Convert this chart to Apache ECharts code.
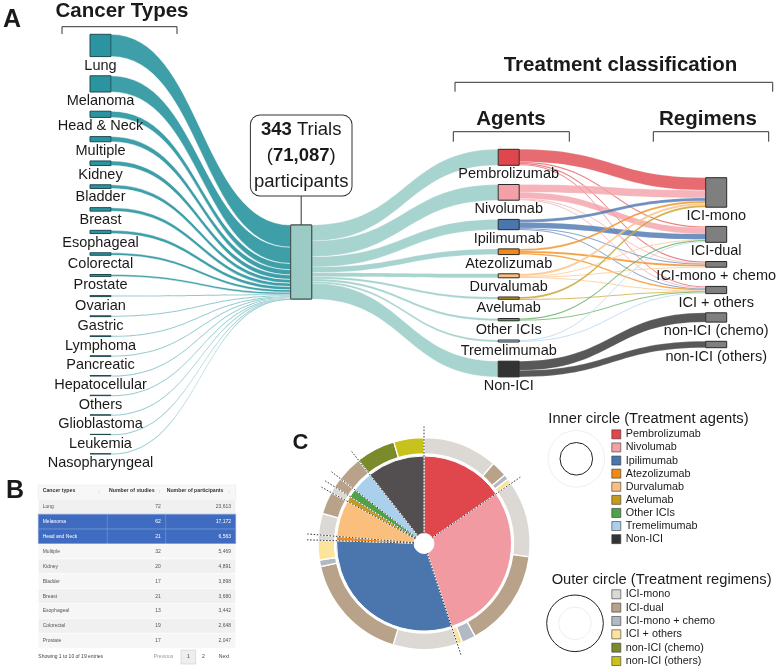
<!DOCTYPE html>
<html><head><meta charset="utf-8">
<script src="https://cdn.jsdelivr.net/npm/echarts@6/dist/echarts.min.js"></script>
<style>html,body{margin:0;padding:0;background:#fff}#c{width:782px;height:669px}</style>
</head><body><div id="c"></div>
<script>
// ---------------- data ----------------
const cancerTypes = ['Lung','Melanoma','Head & Neck','Multiple','Kidney','Bladder','Breast','Esophageal','Colorectal','Prostate','Ovarian','Gastric','Lymphoma','Pancreatic','Hepatocellular','Others','Glioblastoma','Leukemia','Nasopharyngeal'];
const cancerParticipants = [23613,17172,6563,5469,4891,3898,3680,3442,2648,2047,1050,900,750,620,520,430,330,220,147];
const agents = ['Pembrolizumab','Nivolumab','Ipilimumab','Atezolizumab','Durvalumab','Avelumab','Other ICIs','Tremelimumab','Non-ICI'];
const regimens = ['ICI-mono','ICI-dual','ICI-mono + chemo','ICI + others','non-ICI (chemo)','non-ICI (others)'];
// participants flowing from each agent (same order as agents) into each regimen
const flowIciMono   = [13240,8160,3180,2120,2440,2120,0,0,0];
const flowIciDual   = [1270,6570,6040,0,530,0,1380,1060,0];
const flowIciChemo  = [1380,950,840,2330,530,0,0,0,0];
const flowIciOthers = [1060,950,840,1590,740,320,1060,1060,0];
const flowNonChemo  = [0,0,0,0,0,0,0,0,9850];
const flowNonOthers = [0,0,0,0,0,0,0,0,6780];
const trialCount = 343;
const participantCount = 71087;

// table (panel B)
const tableHeaders = ['Cancer types','Number of studies','Number of participants'];
const tableTypes = ['Lung','Melanoma','Head and Neck','Mulitple','Kidney','Bladder','Breast','Esophageal','Colorectal','Prostate'];
const tableStudies = [72,62,21,32,20,17,21,13,19,17];
const tableParticipants = [23613,17172,6563,5469,4891,3898,3680,3442,2648,2047];
const tableSelected = ['Melanoma','Head and Neck'];
const tableFooter = 'Showing 1 to 10 of 19 entries';
const tablePager = ['Previous','1','2','Next'];

// pie (panel C), shares in %
const pieAgentShare = [15.4,29.5,30.6,0.8,6.7,1.0,1.5,3.9,10.6];
const ringIciMono   = [11.4,11.6,9.8,0.8,3.3,1.0,0,0,0];
const ringIciDual   = [2.4,15.0,16.8,0,3.4,0,1.5,3.9,0];
const ringIciChemo  = [0.8,2.1,1.0,0,0,0,0,0,0];
const ringIciOthers = [0.8,0.8,3.0,0,0,0,0,0,0];
const ringNonChemo  = [0,0,0,0,0,0,0,0,6.0];
const ringNonOthers = [0,0,0,0,0,0,0,0,4.6];

// ---------------- styles ----------------
const FONT = '"Liberation Sans", Arial, Helvetica, sans-serif';
const agentColors = ['#e0474d','#f4a0a7','#4a76b0','#f08a15','#fbbf7d','#c59b1e','#4ea24a','#abd0ee','#333333'];
const pieAgentColors = ['#e0474d','#f29aa2','#4a76ad','#f08a15','#fbbf7d','#c59b1e','#4ea24a','#abd0ee','#534f50'];
const regimenColors = ['#dcd9d4','#b8a38a','#b3b9c3','#fde49c','#7b8b2b','#c8c21d'];

const sum = a => a.reduce((s,v)=>s+v,0);
const regimenFlows = [flowIciMono, flowIciDual, flowIciChemo, flowIciOthers, flowNonChemo, flowNonOthers];
const agentTotals = agents.map((_,i)=> sum(regimenFlows.map(f=>f[i])));
const regimenTotals = regimenFlows.map(sum);
const TOTAL = sum(cancerParticipants);
const GAP = 19.2, COLPX = 74, K = COLPX / TOTAL;
const topA = 34.3, hA = 18*GAP + COLPX;
const topB = 149.3, hB = 8*GAP + COLPX;
const hubTop = 225, regTop = 177.7;
let acc = regTop - topB;
const regLocalY = regimenTotals.map(v => { const y = acc / hB; acc += v*K + GAP; return y; });

const nodeLabel = {position:'bottom', distance:1, fontSize:14.5, color:'#1a1a1a', fontFamily:FONT};
const hubStyle = {color:'#9ccbc6', borderColor:'#3b4f4d', borderWidth:1};

const sankeyA = {
  type:'sankey', left:90, top:topA, width:221.7, height:hA,
  nodeWidth:21, nodeGap:GAP, layoutIterations:0, draggable:false, silent:true,
  label: nodeLabel,
  lineStyle:{color:'#3f9fa9', opacity:1, curveness:0.5, borderColor:'#ffffff', borderWidth:0.5},
  data: cancerTypes.map(n=>({name:n, itemStyle:{color:'#2a95a1', borderColor:'#1f4b50', borderWidth:1}})).concat([{
    name:'Trials', localY:(hubTop-topA)/hA, itemStyle:hubStyle,
    label:{show:true, position:'top', distance:29, fontSize:18.5, lineHeight:26, color:'#1a1a1a', fontFamily:FONT,
      align:'center', backgroundColor:'#fff', borderColor:'#333', borderWidth:1, borderRadius:9, padding:[1,3,1,3],
      formatter: () => '{b|' + trialCount + '} Trials\n({b|' + participantCount.toLocaleString('en-US') + '})\nparticipants',
      rich:{b:{fontWeight:'bold', fontSize:18.5, lineHeight:26, fontFamily:FONT, color:'#1a1a1a'}}}
  }]),
  links: cancerTypes.map((n,i)=>({source:n, target:'Trials', value:cancerParticipants[i]}))
};

const linksB = agents.map((a,i)=>({source:'Trials', target:a, value:agentTotals[i], lineStyle:{color:'#a8d4cf', opacity:1}}));
agents.forEach((a,i)=>{
  regimenFlows.forEach((f,r)=>{
    if (f[i] > 0) linksB.push({source:a, target:regimens[r], value:f[i], lineStyle:{color:agentColors[i], opacity: i===8 ? 0.82 : 0.8}});
  });
});
const sankeyB = {
  type:'sankey', left:290.7, top:topB, width:436, height:hB,
  nodeWidth:21, nodeGap:GAP, layoutIterations:0, draggable:false, silent:true,
  label: nodeLabel,
  lineStyle:{curveness:0.5, borderColor:'rgba(255,255,255,0.6)', borderWidth:0.4},
  data: [{name:'Trials', localY:(hubTop-topB)/hB, itemStyle:hubStyle, label:{show:false}}]
    .concat(agents.map((a,i)=>({name:a, itemStyle:{color:agentColors[i], borderColor:'#2a2a2a', borderWidth:1}})))
    .concat(regimens.map((r,i)=>({name:r, localY:regLocalY[i], itemStyle:{color:'#7f7f7f', borderColor:'#2a2a2a', borderWidth:1}}))),
  links: linksB
};

// pie
const PIE_C = [424, 543.5];
const ringSets = [ringIciMono, ringIciDual, ringIciChemo, ringIciOthers, ringNonChemo, ringNonOthers];
const ringData = [];
agents.forEach((a,i)=>{ ringSets.forEach((set,r)=>{ if (set[i] > 0) ringData.push({name:regimens[r], value:set[i], itemStyle:{color:regimenColors[r]}}); }); });
const boundaries = [];
let c = 0;
pieAgentShare.forEach(v => { boundaries.push([117, c]); c += v; });
const pieTotal = sum(pieAgentShare);

const innerPie = {
  type:'pie', center:PIE_C, radius:[10, 87.5], startAngle:90, clockwise:true, silent:true,
  label:{show:false}, labelLine:{show:false}, avoidLabelOverlap:false,
  itemStyle:{borderColor:'#fff', borderWidth:1},
  data: agents.map((a,i)=>({name:a, value:pieAgentShare[i], itemStyle:{color:pieAgentColors[i]}}))
};
const outerPie = {
  type:'pie', center:PIE_C, radius:[89.5, 106], startAngle:90, clockwise:true, silent:true,
  label:{show:false}, labelLine:{show:false}, avoidLabelOverlap:false,
  itemStyle:{borderColor:'#fff', borderWidth:1.3},
  data: ringData
};
const dividers = {
  type:'custom', coordinateSystem:'polar', silent:true, z:5,
  data: boundaries,
  renderItem: (params, api) => {
    const a = api.value(1);
    const p1 = api.coord([10, a]);
    const p2 = api.coord([117, a]);
    return {type:'line', shape:{x1:p1[0], y1:p1[1], x2:p2[0], y2:p2[1]},
      style:{stroke:'#3a3a3a', lineWidth:1, lineDash:[1.6,1.6], fill:null}};
  }
};

// ---------------- graphics (headers, brackets, table) ----------------
const G = [];
function txt(text, x, y, size, opts) {
  opts = opts || {};
  G.push({type:'text', silent:true, z:10, style:{text:text, x:x, y:y, fontSize:size, fontFamily:FONT,
    fontWeight:opts.bold ? 'bold' : 'normal', fill:opts.color || '#1a1a1a',
    align:opts.align || 'center', textAlign:opts.align || 'center',
    verticalAlign:'middle', textVerticalAlign:'middle'}});
}
function bracket(x1, x2, yTop, yBot) {
  G.push({type:'polyline', silent:true, shape:{points:[[x1,yBot],[x1,yTop],[x2,yTop],[x2,yBot]]}, style:{stroke:'#333', lineWidth:1, fill:null}});
}
txt('A', 12, 20, 25, {bold:true});
txt('B', 15, 491, 25, {bold:true});
txt('C', 300.5, 443, 22, {bold:true});
txt('Cancer Types', 122, 11.5, 20.5, {bold:true});
bracket(62, 177, 26.7, 34);
txt('Treatment classification', 620.5, 65.5, 20.5, {bold:true});
bracket(455, 772.7, 82.3, 91.7);
txt('Agents', 511, 119, 20.5, {bold:true});
bracket(453.3, 569.3, 131.7, 141.7);
txt('Regimens', 708, 119, 20.5, {bold:true});
bracket(653.3, 768.7, 131.7, 141.7);
// hub connector
G.push({type:'line', silent:true, shape:{x1:301.2, y1:195.5, x2:301.2, y2:hubTop}, style:{stroke:'#333', lineWidth:1}});

// legend titles and circle icons
txt('Inner circle (Treatment agents)', 548.3, 418.5, 14.7, {align:'left'});
txt('Outer circle (Treatment regimens)', 551.7, 580, 14.7, {align:'left'});
G.push({type:'circle', silent:true, shape:{cx:576.3, cy:458.8, r:28.3}, style:{stroke:'#eeeeee', fill:null, lineWidth:1}});
G.push({type:'circle', silent:true, shape:{cx:576.3, cy:458.8, r:16.3}, style:{stroke:'#222', fill:null, lineWidth:1}});
G.push({type:'circle', silent:true, shape:{cx:575, cy:623.3, r:16.3}, style:{stroke:'#eeeeee', fill:null, lineWidth:1}});
G.push({type:'circle', silent:true, shape:{cx:575, cy:623.3, r:28.3}, style:{stroke:'#222', fill:null, lineWidth:1}});

// table
const TX0 = 38.3, TX1 = 235.7, COLS = [38.3, 107.3, 165.7], HEAD_TOP = 485, ROW_TOP = 499.3, ROW_H = 14.9;
G.push({type:'rect', silent:true, shape:{x:TX0, y:HEAD_TOP, width:TX1-TX0, height:ROW_TOP-HEAD_TOP}, style:{fill:'#f7f7f7', stroke:'#e6e6e6', lineWidth:0.5}});
const headX = [42.7, 109, 166.7];
tableHeaders.forEach((h,i)=>{ txt(h, headX[i], 491, 5.2, {bold:true, align:'left', color:'#333'}); });
[99, 159.3, 229].forEach(x => txt('\u2195', x, 491, 5.5, {color:'#c8c8c8'}));
tableTypes.forEach((t,i)=>{
  const y = ROW_TOP + i*ROW_H;
  const sel = tableSelected.indexOf(t) >= 0;
  G.push({type:'rect', silent:true, shape:{x:TX0, y:y, width:TX1-TX0, height:ROW_H},
    style:{fill: sel ? '#3f6cc0' : (i % 2 === 0 ? '#f0f0f0' : '#f6f6f6'), stroke: sel ? '#7c9bd6' : '#ffffff', lineWidth:0.6}});
  if (sel) {
    [COLS[1], COLS[2]].forEach(x => G.push({type:'line', silent:true, shape:{x1:x, y1:y, x2:x, y2:y+ROW_H}, style:{stroke:'#7c9bd6', lineWidth:0.6}}));
  }
  const col = sel ? '#ffffff' : '#555555';
  txt(t, 42.7, y + ROW_H/2, 5, {align:'left', color:col});
  txt(String(tableStudies[i]), 160.7, y + ROW_H/2, 5, {align:'right', color:col});
  txt(tableParticipants[i].toLocaleString('en-US'), 231, y + ROW_H/2, 5, {align:'right', color:col});
});
txt(tableFooter, 38.3, 657, 5, {align:'left', color:'#444'});
G.push({type:'rect', silent:true, shape:{x:181, y:650, width:14.7, height:14}, style:{fill:'#eeeeee', stroke:'#cccccc', lineWidth:0.6}});
txt(tablePager[0], 163.5, 657, 5, {color:'#999'});
txt(tablePager[1], 188.3, 657, 5, {color:'#444'});
txt(tablePager[2], 203.3, 657, 5, {color:'#444'});
txt(tablePager[3], 224, 657, 5, {color:'#444'});

// ---------------- chart ----------------
const chart = echarts.init(document.getElementById('c'), null, {renderer:'canvas'});
const legendBase = {
  orient:'vertical', left:611.5, itemWidth:9, itemHeight:9, itemGap:0, icon:'rect', selectedMode:false,
  padding:0, height:120, itemStyle:{borderColor:'#333', borderWidth:0.6}
};
chart.setOption({
  animation:false,
  textStyle:{fontFamily:FONT},
  polar:{center:PIE_C, radius:117},
  angleAxis:{type:'value', min:0, max:pieTotal, startAngle:90, clockwise:true, show:false,
    axisLine:{show:false}, axisTick:{show:false}, axisLabel:{show:false}, splitLine:{show:false}},
  radiusAxis:{type:'value', min:0, max:117, show:false,
    axisLine:{show:false}, axisTick:{show:false}, axisLabel:{show:false}, splitLine:{show:false}},
  legend:[
    Object.assign({}, legendBase, {top:427.8, data:agents.map((a,i)=>({name:a, itemStyle:{color:agentColors[i]}})),
      textStyle:{fontSize:10.8, lineHeight:13.1, color:'#1a1a1a', fontFamily:FONT}}),
    Object.assign({}, legendBase, {top:587.6, data:regimens.map((r,i)=>({name:r, itemStyle:{color:regimenColors[i]}})),
      textStyle:{fontSize:10.8, lineHeight:13.35, color:'#1a1a1a', fontFamily:FONT}})
  ],
  graphic:{elements:G},
  series:[sankeyA, sankeyB, innerPie, outerPie, dividers]
});
</script>
</body></html>
